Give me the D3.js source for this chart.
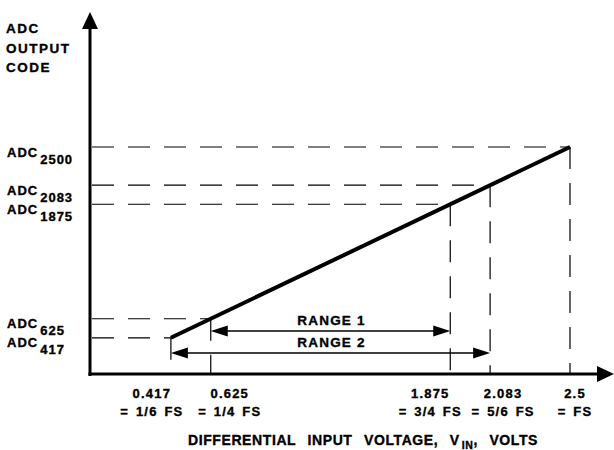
<!DOCTYPE html>
<html>
<head>
<meta charset="utf-8">
<script src="https://cdn.jsdelivr.net/npm/d3@7"></script>
<style>
  html, body { margin: 0; padding: 0; background: #fff; }
  svg text { font-family: "Liberation Sans", Arial, Helvetica, sans-serif; font-weight: bold; fill: #000; stroke: #000; stroke-width: 0.35px; }
</style>
</head>
<body>
<svg id="chart" width="614" height="450"></svg>
<script>
// ---- data ----
const xValues = [0.417, 0.625, 1.875, 2.083, 2.5];
const xTickTop = ["0.417", "0.625", "1.875", "2.083", "2.5"];
const xTickBottom = ["= 1/6 FS", "= 1/4 FS", "= 3/4 FS", "= 5/6 FS", "= FS"];
const yValues = [417, 625, 1875, 2083, 2500];
const yTickSubs = ["417", "625", "1875", "2083", "2500"];
const transferLine = [[0.417, 417], [2.5, 2500]];
const rangeLabels = ["RANGE 1", "RANGE 2"];
const rangeStart = [0.625, 0.417];
const rangeEnd = [1.875, 2.083];
const yTitleLines = ["ADC", "OUTPUT", "CODE"];

// ---- layout ----
const svg = d3.select("#chart");
const x = d3.scaleLinear().domain([0, 2.5]).range([91, 570]);
const y = d3.scaleLinear().domain([0, 2500]).range([376, 147]);
const axisY = 374, axisX = 90;

// dashed guide lines
const guides = svg.append("g").attr("stroke", "#000").attr("stroke-width", 1.2)
  .attr("stroke-dasharray", "22,14").attr("fill", "none");
xValues.forEach((v, i) => {
  guides.append("line").attr("x1", axisX + 2).attr("x2", x(v))
    .attr("y1", y(yValues[i])).attr("y2", y(yValues[i]));
  guides.append("line").attr("x1", x(v)).attr("x2", x(v))
    .attr("y1", y(yValues[i])).attr("y2", axisY);
});

// axes
svg.append("line").attr("x1", axisX).attr("x2", axisX).attr("y1", axisY + 2).attr("y2", 26)
  .attr("stroke", "#000").attr("stroke-width", 3);
svg.append("path").attr("d", `M${axisX},12 L${axisX - 8},29 L${axisX + 8},29 Z`).attr("fill", "#000");
svg.append("line").attr("x1", axisX - 1.5).attr("x2", 600).attr("y1", axisY).attr("y2", axisY)
  .attr("stroke", "#000").attr("stroke-width", 3);
svg.append("path").attr("d", `M614,${axisY} L597,${axisY - 8} L597,${axisY + 8} Z`).attr("fill", "#000");

// transfer line
svg.append("path").datum(transferLine)
  .attr("d", d3.line().x(d => x(d[0])).y(d => y(d[1])))
  .attr("stroke", "#000").attr("stroke-width", 4).attr("fill", "none");

// range arrows
const rangeY = [331, 353];
const labelY = [325, 347];
rangeLabels.forEach((lab, i) => {
  const x0 = x(rangeStart[i]), x1 = x(rangeEnd[i]), yy = rangeY[i];
  svg.append("line").attr("x1", x0 + 10).attr("x2", x1 - 10).attr("y1", yy).attr("y2", yy)
    .attr("stroke", "#000").attr("stroke-width", 1.6);
  svg.append("path").attr("d", `M${x0},${yy} L${x0 + 17},${yy - 5.5} L${x0 + 17},${yy + 5.5} Z`).attr("fill", "#000");
  svg.append("path").attr("d", `M${x1},${yy} L${x1 - 17},${yy - 5.5} L${x1 - 17},${yy + 5.5} Z`).attr("fill", "#000");
  svg.append("text").attr("x", (x0 + x1) / 2 + 1).attr("y", labelY[i])
    .attr("text-anchor", "middle").attr("font-size", 13.5).attr("letter-spacing", 1.2).text(lab);
});

// y tick labels
yValues.forEach((v, i) => {
  const t = svg.append("text").attr("x", 7).attr("y", y(v) + 9.5).attr("font-size", 13).attr("letter-spacing", 1);
  t.append("tspan").text("ADC");
  t.append("tspan").attr("dx", 2).attr("dy", 7).text(yTickSubs[i]);
});

// y title
yTitleLines.forEach((s, i) => {
  svg.append("text").attr("x", 6).attr("y", 33 + i * 19.5).attr("font-size", 13.5)
    .attr("letter-spacing", 1.5).text(s);
});

// x tick labels
const tickDx = [-19, 19, -20, 13, 5];
xValues.forEach((v, i) => {
  const cx = x(v) + tickDx[i];
  svg.append("text").attr("x", cx).attr("y", 398).attr("text-anchor", "middle")
    .attr("font-size", 13).attr("letter-spacing", 1.2).text(xTickTop[i]);
  svg.append("text").attr("x", cx).attr("y", 416).attr("text-anchor", "middle")
    .attr("font-size", 13).attr("letter-spacing", 1.2).attr("word-spacing", 2).attr("xml:space", "preserve").text(xTickBottom[i]);
});

// x title
const xt = svg.append("text").attr("x", 363).attr("y", 445).attr("text-anchor", "middle")
  .attr("font-size", 14).attr("letter-spacing", 0.6).attr("word-spacing", 7).attr("xml:space", "preserve");
xt.append("tspan").text("DIFFERENTIAL INPUT VOLTAGE, V");
xt.append("tspan").attr("dy", 4).attr("dx", 2).attr("font-size", 10.5).text("IN");
xt.append("tspan").attr("dy", -4).text(", VOLTS");
</script>
</body>
</html>
